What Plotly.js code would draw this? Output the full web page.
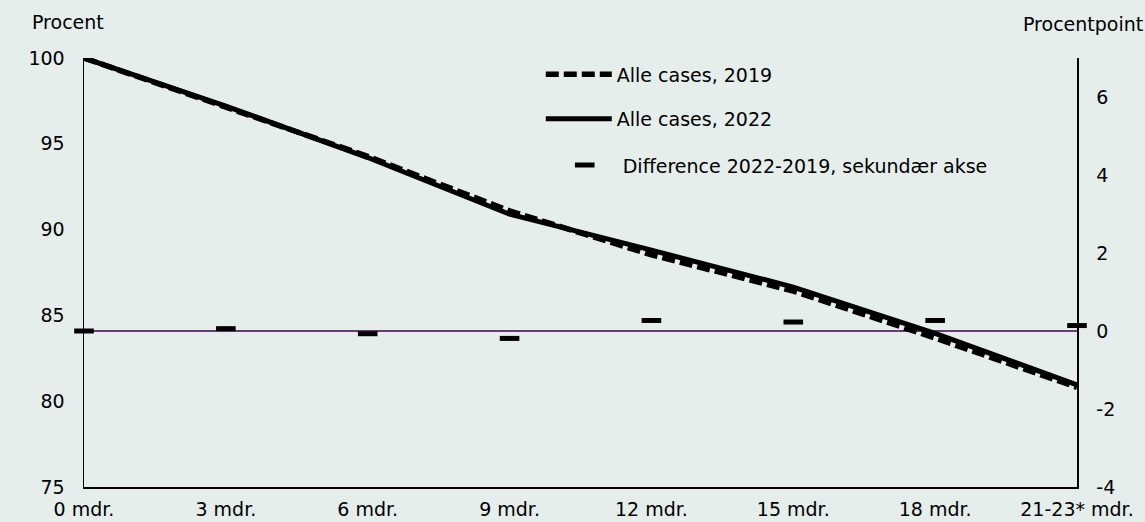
<!DOCTYPE html>
<html>
<head>
<meta charset="utf-8">
<script src="https://cdn.plot.ly/plotly-3.0.1.min.js"></script>
<style>html,body{margin:0;padding:0;background:#e5eeeb;}#chart{width:1145px;height:522px;}</style>
</head>
<body>
<div id="chart"></div>
<script>
const months = [0, 3, 6, 9, 12, 15, 18, 21];
const tickLabels = ["0 mdr.", "3 mdr.", "6 mdr.", "9 mdr.", "12 mdr.", "15 mdr.", "18 mdr.", "21-23* mdr."];
const cases2019 = [100, 97.14, 94.27, 91.09, 88.53, 86.42, 83.68, 80.81];
const cases2022 = [100, 97.2, 94.2, 90.9, 88.8, 86.65, 83.95, 80.95];
const diff = [0, 0.06, -0.07, -0.19, 0.27, 0.23, 0.27, 0.14];
const rightTicks = [-4, -2, 0, 2, 4, 6];
const rightTickLabels = ["-4", "-2", "0", "2", "4", "6"];

const FONT = "'DejaVu Sans', sans-serif";
const FS = 19;
const BG = "#e5eeeb";

const traces = [
  {x: months, y: cases2022, type: "scatter", mode: "lines", name: "Alle cases, 2022",
   line: {color: "#000", width: 5}, legend: "legend2", cliponaxis: false},
  {x: months, y: cases2019, type: "scatter", mode: "lines", name: "Alle cases, 2019",
   line: {color: "#000", width: 5.5, dash: "13px,5px"}, legend: "legend", cliponaxis: false},
  {x: months, y: diff, type: "scatter", mode: "markers", name: "Difference 2022-2019, sekundær akse",
   yaxis: "y2", legend: "legend3", cliponaxis: false,
   marker: {symbol: "line-ew", size: 14, line: {color: "#000", width: 5}}}
];

const legendBase = {bgcolor: "rgba(0,0,0,0)", font: {family: FONT, size: FS, color: "#000"},
  xanchor: "left", yanchor: "middle", itemwidth: 66};

const layout = {
  width: 1145, height: 522,
  paper_bgcolor: BG, plot_bgcolor: BG,
  margin: {l: 84, r: 68, t: 58, b: 35},
  font: {family: FONT, size: FS, color: "#000"},
  showlegend: true,
  legend: Object.assign({}, legendBase, {x: 0.460, y: 0.962}),
  legend2: Object.assign({}, legendBase, {x: 0.460, y: 0.858}),
  legend3: Object.assign({}, legendBase, {x: 0.466, y: 0.750}),
  xaxis: {range: [0, 21], tickvals: months, ticktext: tickLabels, showgrid: false, zeroline: false,
    showline: true, linecolor: "#000", linewidth: 1.5, ticks: "", ticklabelstandoff: 5,
    tickfont: {family: FONT, size: FS}},
  yaxis: {range: [75, 100], dtick: 5, showgrid: false, zeroline: false, showline: true,
    linecolor: "#000", linewidth: 1.5, ticks: "", ticklabelstandoff: 14,
    tickfont: {family: FONT, size: FS}},
  yaxis2: {overlaying: "y", side: "right", range: [-4, 7], tickvals: rightTicks, ticktext: rightTickLabels,
    showgrid: false, zeroline: true, zerolinecolor: "#6b3a78", zerolinewidth: 2,
    showline: true, linecolor: "#000", linewidth: 1.5, ticks: "", ticklabelstandoff: 14,
    tickfont: {family: FONT, size: FS}},
  annotations: [
    {text: "Procent", xref: "paper", yref: "paper", x: -0.054, y: 1, xanchor: "left", yanchor: "bottom",
     yshift: 23, showarrow: false, font: {family: FONT, size: FS}},
    {text: "Procentpoint", xref: "paper", yref: "paper", x: 1.0685, y: 1, xanchor: "right", yanchor: "bottom",
     yshift: 21, showarrow: false, font: {family: FONT, size: FS}}
  ]
};

Plotly.newPlot("chart", traces, layout, {displayModeBar: false, staticPlot: true});
</script>
</body>
</html>
